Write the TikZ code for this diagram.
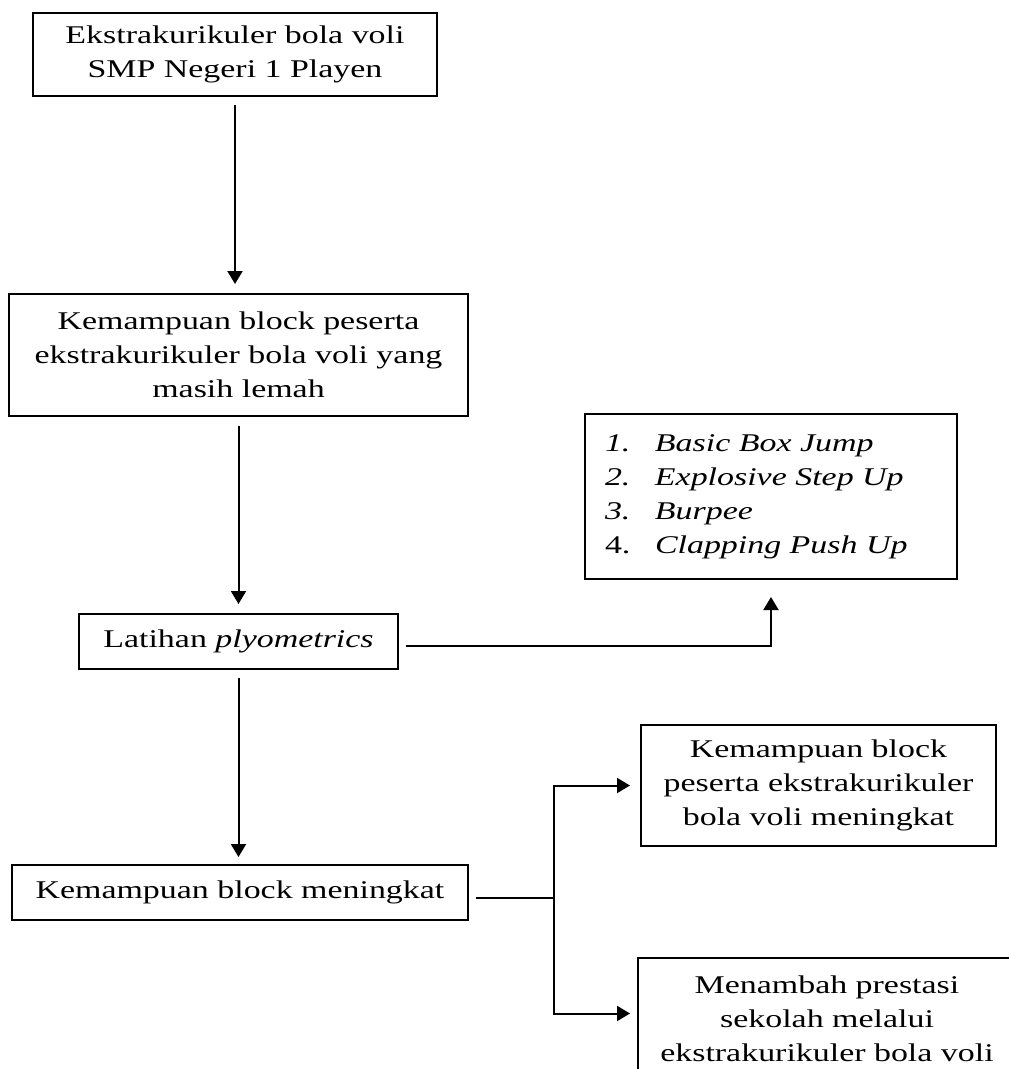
\documentclass[tikz,border=0pt]{standalone}
\usepackage{fontspec}
\setmainfont{Liberation Serif}[FakeStretch=1.33]
\usetikzlibrary{positioning, arrows.meta}

\begin{document}
\begin{tikzpicture}[
    x=1pt, y=-1pt,
    every node/.style={font=\fontsize{25.5}{34}\selectfont},
    box/.style={rectangle, draw, line width=2pt, align=center, inner sep=0pt},
    listbox/.style={box, align=left, text width=332pt, inner xsep=20pt},
    arr/.style={-{Triangle[length=13pt, width=15pt]}, line width=2pt}
]
    \useasboundingbox (0,0) rectangle (1009,1069);
    \clip (0,0) rectangle (1009,1069);
    \node[box, minimum width=404, minimum height=83] (ekskul) at (235,54.5) {Ekstrakurikuler bola voli\\SMP Negeri 1 Playen};
    \node[box, minimum width=459, minimum height=122] (lemah) at (238.5,355) {Kemampuan block peserta\\ekstrakurikuler bola voli yang\\masih lemah};
    \node[box, minimum width=319, minimum height=55] (latihan) at (238.5,641.5) {Latihan \textit{plyometrics}};
    \node[box, minimum width=456, minimum height=55] (naik) at (240,892.5) {Kemampuan block meningkat};
    \node[listbox, minimum height=165] (jenis) at (771,496.5) {%
        \makebox[50pt][l]{\textit{1.}}\textit{Basic Box Jump}\\
        \makebox[50pt][l]{\textit{2.}}\textit{Explosive Step Up}\\
        \makebox[50pt][l]{\textit{3.}}\textit{Burpee}\\
        \makebox[50pt][l]{4.}\textit{Clapping Push Up}};
    \node[box, minimum width=355, minimum height=121] (hasil1) at (818.5,785.5) {Kemampuan block\\peserta ekstrakurikuler\\bola voli meningkat};
    \node[box, minimum width=378, minimum height=121] (hasil2) at (827,1018.5) {Menambah prestasi\\sekolah melalui\\ekstrakurikuler bola voli};
    \coordinate (cabang) at ([xshift=85pt]naik.east);
    \draw[arr, shorten <=8pt, shorten >=9pt] (ekskul.south) -- (ekskul.south |- lemah.north);
    \draw[arr, shorten <=9pt, shorten >=9pt] (lemah.south) -- (lemah.south |- latihan.north);
    \draw[arr, shorten <=8pt, shorten >=7pt] (latihan.south) -- (latihan.south |- naik.north);
    \draw[arr, shorten >=17pt] ([xshift=7pt, yshift=-4pt]latihan.east) -| (jenis.south);
    \draw[line width=2pt] ([xshift=7pt, yshift=-5pt]naik.east) -- ([yshift=-5pt]cabang);
    \draw[arr, shorten >=10pt] ([yshift=-5pt]cabang) |- (hasil1.west);
    \draw[arr, shorten >=7pt] ([yshift=-5pt]cabang) |- ([yshift=5pt]hasil2.west);
\end{tikzpicture}
\end{document}
